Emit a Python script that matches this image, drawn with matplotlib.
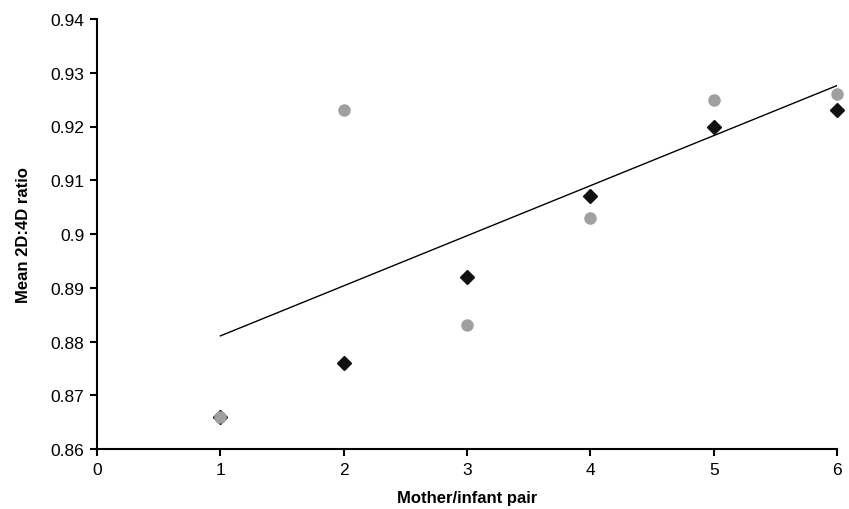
import numpy as np
import matplotlib.pyplot as plt

# Mother/infant pairs
pairs = [1, 2, 3, 4, 5, 6]
# black diamonds
diamond_vals = [0.866, 0.876, 0.892, 0.907, 0.920, 0.923]
# grey circles
circle_vals = [0.866, 0.923, 0.883, 0.903, 0.925, 0.926]

x_ticks = [0, 1, 2, 3, 4, 5, 6]
y_ticks = [0.86, 0.87, 0.88, 0.89, 0.9, 0.91, 0.92, 0.93, 0.94]
y_ticklabels = ['0.86', '0.87', '0.88', '0.89', '0.9', '0.91', '0.92', '0.93', '0.94']

plt.rcParams['font.family'] = ['Liberation Sans', 'DejaVu Sans']

fig = plt.figure(figsize=(8.49, 5.10), dpi=100)
ax = fig.add_axes([0.1143, 0.1176, 0.8716, 0.8432])

ax.plot(pairs, diamond_vals, linestyle='none', marker='D', ms=7.5,
        color='#111111', zorder=3, clip_on=False)
ax.plot(pairs, circle_vals, linestyle='none', marker='o', ms=8,
        color='#a0a0a0', zorder=4, clip_on=False)

# linear trend line through the grey series
slope, intercept = np.polyfit(pairs, circle_vals, 1)
xs = np.array([pairs[0], pairs[-1]])
ax.plot(xs, slope * xs + intercept, color='black', lw=1, zorder=2)

ax.set_xlim(0, 6)
ax.set_ylim(0.86, 0.94)
ax.set_xticks(x_ticks)
ax.set_yticks(y_ticks)
ax.set_yticklabels(y_ticklabels)

for s in ['top', 'right']:
    ax.spines[s].set_visible(False)
for s in ['left', 'bottom']:
    ax.spines[s].set_linewidth(1.5)
ax.tick_params(direction='out', length=5, width=1.5, labelsize=12.5, pad=4)

ax.set_xlabel('Mother/infant pair', fontsize=12, fontweight='bold', labelpad=10)
ax.set_ylabel('Mean 2D:4D ratio', fontsize=12, fontweight='bold', labelpad=14)

fig.savefig('out.png', dpi=100)
